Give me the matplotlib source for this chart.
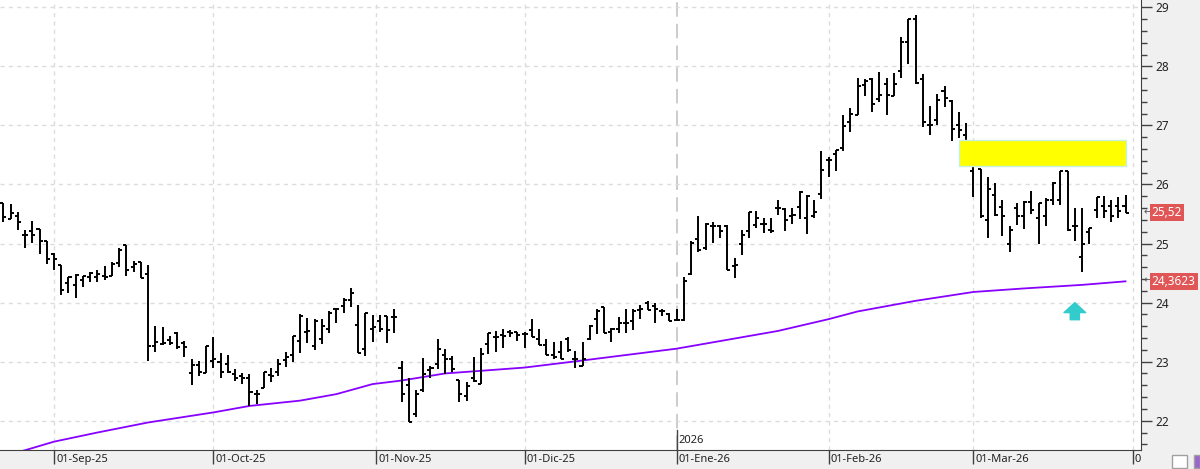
import matplotlib
matplotlib.use("Agg")
import matplotlib.pyplot as plt
from matplotlib.patches import Rectangle
from matplotlib.ticker import MultipleLocator, FixedLocator
from matplotlib.transforms import Bbox, TransformedBbox, blended_transform_factory

# daily OHLC bars (index = trading day)
opens = [25.69, 25.41, 25.46, 25.15, 25.22, 25.25, 25.04, 24.83, 24.63, 24.34,
         24.30, 24.38, 24.43, 24.43, 24.45, 24.45, 24.67, 24.98, 24.60, 24.69,
         24.48, 23.26, 23.30, 23.36, 23.49, 23.32, 22.81, 22.95, 22.81, 23.01,
         23.00, 22.96, 22.79, 22.76, 22.73, 22.46, 22.56, 22.77, 22.82, 23.03,
         23.11, 23.35, 23.51, 23.27, 23.38, 23.55, 23.89, 23.94, 24.05, 23.62,
         23.22, 23.56, 23.69, 23.77, 23.76, 22.90, 22.60, 22.12, 22.52, 22.86,
         22.96, 23.12, 23.04, 22.69, 22.41, 22.72, 22.63, 23.30, 23.41, 23.45,
         23.51, 23.50, 23.47, 23.54, 23.38, 23.28, 23.12, 23.17, 23.38, 23.04,
         22.93, 23.38, 23.72, 23.93, 23.51, 23.55, 23.65, 23.69, 23.87, 24.00,
         23.94, 23.86, 23.81, 23.70, 23.70, 24.48, 25.07, 24.92, 25.30, 25.30,
         25.30, 24.62, 25.00, 25.21, 25.31, 25.33, 25.23, 25.61, 25.58, 25.47,
         25.62, 25.43, 25.47, 25.84, 26.42, 26.51, 26.61, 27.06, 27.18, 27.68,
         27.79, 27.44, 27.71, 27.50, 27.93, 28.41, 28.80, 27.79, 27.01, 27.09,
         27.59, 27.41, 27.01, 26.84, 26.22, 26.26, 25.40, 25.82, 25.62, 25.00,
         25.61, 25.47, 25.71, 25.43, 25.46, 25.74, 25.74, 26.22, 25.30, 24.78,
         25.19, 25.57, 25.64, 25.64, 25.64, 25.64]
highs = [25.69, 25.67, 25.54, 25.23, 25.38, 25.25, 25.04, 24.84, 24.63, 24.43,
         24.49, 24.45, 24.51, 24.56, 24.62, 24.68, 24.93, 24.98, 24.71, 24.69,
         24.64, 23.61, 23.58, 23.43, 23.50, 23.35, 23.04, 23.01, 23.27, 23.42,
         23.14, 23.11, 22.87, 22.80, 22.79, 22.52, 22.83, 22.89, 23.04, 23.17,
         23.43, 23.81, 23.74, 23.72, 23.72, 23.86, 23.91, 24.07, 24.24, 23.96,
         23.83, 23.79, 23.79, 23.77, 23.90, 23.01, 22.72, 22.52, 23.06, 22.93,
         23.38, 23.21, 23.10, 22.69, 22.66, 23.08, 23.23, 23.49, 23.52, 23.56,
         23.54, 23.50, 23.51, 23.72, 23.56, 23.38, 23.34, 23.35, 23.41, 23.18,
         23.34, 23.62, 23.89, 23.93, 23.57, 23.76, 23.90, 23.90, 23.96, 24.03,
         23.99, 23.89, 23.83, 23.90, 24.43, 25.04, 25.46, 25.34, 25.37, 25.31,
         25.31, 24.75, 25.23, 25.54, 25.55, 25.43, 25.43, 25.74, 25.61, 25.60,
         25.89, 25.82, 25.74, 26.56, 26.47, 26.58, 27.18, 27.30, 27.80, 27.78,
         27.80, 27.91, 27.80, 27.88, 28.50, 28.81, 28.87, 27.87, 27.33, 27.53,
         27.67, 27.43, 27.22, 27.04, 26.39, 26.26, 26.12, 26.03, 25.74, 25.30,
         25.69, 25.72, 25.89, 25.69, 25.77, 26.05, 26.23, 26.23, 25.60, 25.61,
         25.27, 25.79, 25.80, 25.74, 25.79, 25.82]
lows = [25.36, 25.41, 25.23, 24.92, 25.01, 24.83, 24.66, 24.56, 24.13, 24.16,
        24.07, 24.26, 24.35, 24.35, 24.38, 24.45, 24.60, 24.45, 24.52, 24.42,
        23.01, 23.16, 23.29, 23.29, 23.22, 23.08, 22.61, 22.76, 22.80, 22.90,
        22.72, 22.81, 22.68, 22.63, 22.25, 22.29, 22.55, 22.66, 22.76, 22.91,
        22.99, 23.15, 23.31, 23.20, 23.30, 23.48, 23.65, 23.82, 23.93, 23.14,
        23.10, 23.34, 23.51, 23.32, 23.49, 22.31, 21.97, 22.07, 22.49, 22.73,
        22.87, 22.79, 22.82, 22.32, 22.34, 22.66, 22.62, 23.13, 23.17, 23.23,
        23.41, 23.35, 23.23, 23.41, 23.28, 23.11, 23.05, 23.04, 23.16, 22.90,
        22.93, 23.37, 23.47, 23.48, 23.34, 23.49, 23.49, 23.54, 23.73, 23.87,
        23.65, 23.77, 23.68, 23.68, 23.69, 24.47, 24.86, 24.89, 25.01, 25.10,
        24.55, 24.41, 24.81, 25.10, 25.26, 25.18, 25.18, 25.48, 25.22, 25.33,
        25.41, 25.17, 25.43, 25.75, 26.13, 26.23, 26.56, 26.89, 27.18, 27.49,
        27.22, 27.39, 27.18, 27.49, 27.81, 28.04, 27.71, 26.98, 26.84, 27.00,
        27.32, 26.73, 26.78, 26.56, 25.78, 25.44, 25.10, 25.46, 25.12, 24.85,
        25.31, 25.25, 25.50, 25.00, 25.30, 25.65, 25.65, 25.21, 25.05, 24.52,
        24.99, 25.44, 25.44, 25.37, 25.44, 25.52]
closes = [25.45, 25.51, 25.37, 25.14, 25.15, 25.05, 24.74, 24.74, 24.22, 24.43,
          24.46, 24.45, 24.50, 24.49, 24.44, 24.65, 24.89, 24.56, 24.66, 24.42,
          23.26, 23.33, 23.31, 23.32, 23.24, 23.24, 22.95, 22.82, 23.27, 23.05,
          22.83, 22.83, 22.72, 22.72, 22.49, 22.45, 22.82, 22.75, 22.96, 23.08,
          23.43, 23.77, 23.52, 23.68, 23.60, 23.83, 23.89, 24.04, 24.17, 23.14,
          23.82, 23.58, 23.55, 23.53, 23.76, 22.45, 21.98, 22.46, 22.79, 22.90,
          23.21, 23.04, 22.87, 22.45, 22.58, 22.68, 23.13, 23.48, 23.41, 23.43,
          23.49, 23.45, 23.47, 23.42, 23.28, 23.11, 23.08, 23.04, 23.20, 23.04,
          23.04, 23.61, 23.85, 23.48, 23.56, 23.66, 23.65, 23.85, 23.89, 23.87,
          23.89, 23.85, 23.69, 23.71, 24.37, 25.01, 24.89, 25.33, 25.30, 25.22,
          24.56, 24.64, 25.14, 25.53, 25.43, 25.33, 25.21, 25.61, 25.40, 25.48,
          25.88, 25.81, 25.54, 26.25, 26.41, 26.58, 26.99, 27.19, 27.67, 27.75,
          27.37, 27.52, 27.52, 27.70, 28.41, 28.81, 27.72, 27.06, 27.01, 27.43,
          27.46, 26.94, 26.93, 26.69, 26.38, 25.46, 25.92, 25.48, 25.47, 25.23,
          25.47, 25.71, 25.56, 25.68, 25.74, 26.03, 26.22, 25.23, 25.30, 24.99,
          25.26, 25.79, 25.55, 25.46, 25.55, 25.52]

# moving average read at a number of bars
ma_idx = [0, 3, 7, 13, 20, 29, 34, 41, 46, 51, 55, 61, 72, 80, 93, 107, 114,
          118, 126, 134, 141, 149, 155]
ma_val = [21.41, 21.50, 21.645, 21.80, 21.97, 22.14, 22.25, 22.34, 22.45, 22.62,
          22.68, 22.80, 22.90, 23.02, 23.22, 23.52, 23.72, 23.85, 24.03, 24.18,
          24.24, 24.30, 24.36]

month_idx = [7, 29, 51.5, 72, 93, 114, 134, 156]
month_labels = ["01-Sep-25", "01-Oct-25", "01-Nov-25", "01-Dic-25",
                "01-Ene-26", "01-Feb-26", "01-Mar-26", "01-Abr-26"]
year_idx = 93
year_label = "2026"

# yellow zone and marker
zone_x = (132.0, 155.0)
zone_y = (26.31, 26.76)
arrow_idx = 148
arrow_y = (23.71, 24.0)

last_close = "25,52"
ma_last = "24,3623"
ma_last_val = 24.3623

plt.rcParams["font.family"] = ["Noto Sans", "DejaVu Sans"]

W, H = 1200, 469
fig = plt.figure(figsize=(W / 100, H / 100), dpi=100, facecolor="#f0f0f0")
ax = fig.add_axes([0, 19 / H, 1141 / W, 450 / H])
ax.set_facecolor("white")

ax.set_xlim(-0.456, 157.14)
ax.set_ylim(21.504, 29.124)

# grid
ax.yaxis.set_major_locator(MultipleLocator(1))
ax.yaxis.set_minor_locator(MultipleLocator(0.2))
ax.grid(axis="y", which="major", color="#dcdcdc", linestyle=(0, (3, 3)), lw=1)
for m in month_idx:
    if m == year_idx:
        continue
    ax.axvline(m, color="#dcdcdc", linestyle=(0, (3, 3)), lw=1, zorder=0)
ax.axvline(year_idx, color="#c8c8c8", linestyle=(0, (8, 4)), lw=1.3, zorder=0)
bt = blended_transform_factory(ax.transData, ax.transAxes)
ax.plot([year_idx, year_idx], [0, 0.045], color="#444444", lw=1, transform=bt)
ax.text(year_idx + 0.2, 0.008, year_label, fontsize=8, color="#222222",
        transform=bt, va="bottom", ha="left")

# moving average
ax.plot(ma_idx, ma_val, color="#8800ff", lw=1.3, zorder=2)

# bars
idx = list(range(len(closes)))
ax.vlines(idx, lows, highs, color="black", lw=1.4, zorder=3)
ax.hlines(opens, [i - 0.42 for i in idx], idx, color="black", lw=1.4, zorder=3)
ax.hlines(closes, idx, [i + 0.42 for i in idx], color="black", lw=1.4, zorder=3)

# yellow zone
ax.add_patch(Rectangle((zone_x[0], zone_y[0]), zone_x[1] - zone_x[0],
                       zone_y[1] - zone_y[0], facecolor="#ffff00",
                       edgecolor="#c8f0dc", lw=1, zorder=4))

# arrow
ax.annotate("", xy=(arrow_idx, arrow_y[1]), xytext=(arrow_idx, arrow_y[0]),
            arrowprops=dict(arrowstyle="simple,head_length=0.6,head_width=1.3,tail_width=0.55",
                            mutation_scale=12, color="#33cccc", shrinkA=0, shrinkB=0),
            zorder=5)

# axes styling
for s in ["top", "left"]:
    ax.spines[s].set_visible(False)
ax.spines["right"].set_color("#404040")
ax.spines["bottom"].set_color("#404040")
ax.yaxis.tick_right()
ax.tick_params(axis="y", which="major", direction="out", length=8, width=1,
               color="#404040", labelsize=8.5, labelcolor="#222222", pad=2)
ax.tick_params(axis="y", which="minor", direction="out", length=4, width=1,
               color="#404040")
ax.yaxis.set_major_formatter(plt.FuncFormatter(lambda v, p: f"{v:.0f}"))

ax.xaxis.set_major_locator(FixedLocator(month_idx))
ax.tick_params(axis="x", direction="out", length=10, width=1, color="#404040",
               labelbottom=False)

clip = TransformedBbox(Bbox([[0, 0], [1141 / W, 1]]), fig.transFigure)
for m, lab in zip(month_idx, month_labels):
    t = ax.text(m + 0.3, -0.008, lab, transform=bt, fontsize=8, color="#222222",
                ha="left", va="top", clip_on=True)
    t.set_clip_box(clip)

# price tags on the right axis
yt = blended_transform_factory(ax.transAxes, ax.transData)
for val, lab in [(closes[-1], last_close), (ma_last_val, ma_last)]:
    ax.text(1.0018, val, "\u2190", transform=yt, fontsize=7, color="#555555",
            ha="left", va="center", clip_on=False)
    ax.text(1.0095, val, lab, transform=yt, fontsize=8.5, color="white",
            ha="left", va="center", clip_on=False,
            bbox=dict(boxstyle="square,pad=0.18", facecolor="#e05555",
                      edgecolor="none"))

# small toolbar buttons in the bottom-right corner
fig.patches.append(Rectangle((1172 / W, 1 / H), 15 / W, 13 / H, transform=fig.transFigure,
                             facecolor="white", edgecolor="#a0a0a0", lw=1))
fig.patches.append(Rectangle((1194 / W, 1 / H), 6 / W, 13 / H, transform=fig.transFigure,
                             facecolor="#9966cc", edgecolor="#a0a0a0", lw=1))

fig.savefig("out.png", dpi=100, facecolor=fig.get_facecolor())
